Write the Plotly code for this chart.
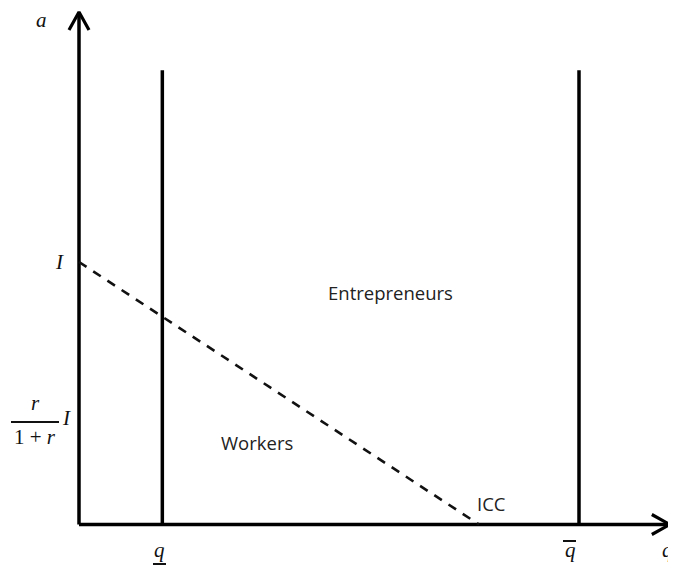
import plotly.graph_objects as go

# ---- diagram data (model units) ----
q_low = 1.0          # q underline threshold
q_high = 6.0         # q bar threshold
I_level = 3.15       # investment I (ICC intercept on a-axis)
ratio_level = 1.23   # r/(1+r) I tick level
icc_end = 4.8        # ICC reaches a = 0 here
vline_top = 5.45     # top of the two vertical thresholds
x_axis_end = 7.09
y_axis_end = 6.15

region_labels = ["Entrepreneurs", "Workers", "ICC"]

# ---- page pixel -> data helpers (for placing labels only) ----
PAGE_W, PAGE_H = 676, 566
BODY = 8  # default page body margin
W, H = PAGE_W - BODY, PAGE_H - BODY
OX, OY = 79.0, 524.5
S = 500.0 / 6.0


def X(px):
    return (px - OX) / S


def Y(py):
    return (OY - py) / S


fig = go.Figure()

black = "#000000"
lw = 3.5

# axes
fig.add_trace(go.Scatter(x=[0, 0], y=[0, y_axis_end], mode="lines",
                         line=dict(color=black, width=lw), hoverinfo="skip"))
fig.add_trace(go.Scatter(x=[0, x_axis_end], y=[0, 0], mode="lines",
                         line=dict(color=black, width=lw), hoverinfo="skip"))
# arrow heads (open chevrons)
ah = 10 / S
al = 18 / S
fig.add_trace(go.Scatter(x=[-ah, 0, ah], y=[y_axis_end - al, y_axis_end, y_axis_end - al],
                         mode="lines", line=dict(color=black, width=3.2), hoverinfo="skip"))
fig.add_trace(go.Scatter(x=[x_axis_end - al, x_axis_end, x_axis_end - al], y=[ah, 0, -ah],
                         mode="lines", line=dict(color=black, width=3.2), hoverinfo="skip"))

# vertical thresholds
for qv in (q_low, q_high):
    fig.add_trace(go.Scatter(x=[qv, qv], y=[0, vline_top], mode="lines",
                             line=dict(color=black, width=lw), hoverinfo="skip"))

# ICC dashed line
fig.add_trace(go.Scatter(x=[0, icc_end], y=[I_level, 0], mode="lines",
                         line=dict(color="#111111", width=2.6, dash="9px,8px"),
                         hoverinfo="skip"))

txt_font = dict(family="Open Sans", size=18.5, color="#222222")
math_font = dict(family="Liberation Serif", size=21, color="#111111")

ann = []
ann.append(dict(x=X(390), y=Y(292), text=region_labels[0], font=txt_font))
ann.append(dict(x=X(257), y=Y(442), text=region_labels[1], font=txt_font))
ann.append(dict(x=X(491), y=Y(503), text=region_labels[2], font=txt_font))

ann.append(dict(x=X(41), y=Y(20), text="<i>a</i>", font=math_font))
ann.append(dict(x=X(59), y=Y(262), text="<i>I</i>", font=math_font))
# fraction r/(1+r) I
ann.append(dict(x=X(35), y=Y(403), text="<i>r</i>", font=math_font))
ann.append(dict(x=X(35), y=Y(437), text="1 + <i>r</i>", font=math_font))
ann.append(dict(x=X(66), y=Y(418), text="<i>I</i>", font=math_font))
# q labels
ann.append(dict(x=X(159), y=Y(550), text="<i>q</i>", font=math_font))
ann.append(dict(x=X(570), y=Y(550), text="<i>q</i>", font=math_font))
ann.append(dict(x=X(675), y=Y(550), text="<i>q</i>", font=math_font, xanchor="right"))

for a in ann:
    a.setdefault("xanchor", "center")
    a["yanchor"] = "middle"
    a["showarrow"] = False
    a["xref"] = "x"
    a["yref"] = "y"
fig.update_layout(annotations=ann)

# fraction bar, underline, overline
shapes = [
    dict(type="line", x0=X(11), x1=X(59), y0=Y(422), y1=Y(422), line=dict(color="#111111", width=2)),
    dict(type="line", x0=X(153), x1=X(166), y0=Y(564), y1=Y(564), line=dict(color="#111111", width=2)),
    dict(type="line", x0=X(563), x1=X(576), y0=Y(541), y1=Y(541), line=dict(color="#111111", width=2)),
]
fig.update_layout(shapes=shapes)

fig.update_layout(
    width=W, height=H, autosize=False,
    margin=dict(l=0, r=0, t=0, b=0),
    paper_bgcolor="white", plot_bgcolor="white",
    showlegend=False,
    xaxis=dict(range=[X(BODY), X(PAGE_W)], visible=False, fixedrange=True),
    yaxis=dict(range=[Y(PAGE_H), Y(BODY)], visible=False, fixedrange=True),
)

fig.write_html("out.html")
